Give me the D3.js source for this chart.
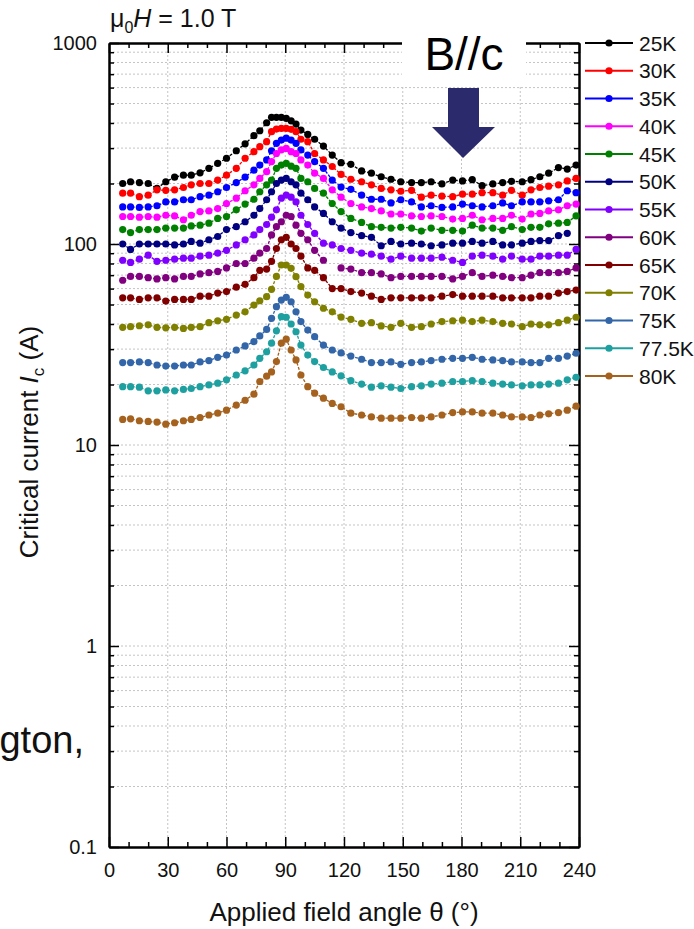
<!DOCTYPE html>
<html>
<head>
<meta charset="utf-8">
<script src="https://cdn.jsdelivr.net/npm/d3@7"></script>
<style>
  body { margin: 0; background: #fff; }
  svg { font-family: Arial, "Liberation Sans", sans-serif; }
</style>
</head>
<body>
<div class="canvas"></div>
<script>
// field angle (deg) of each measured point, shared by all curves
const angles = [7, 11, 15.5, 20, 24.5, 29, 33.5, 38, 42, 46.5,
  51, 55.5, 60, 65, 69.5, 74, 77, 80.5, 83, 85.5,
  88, 90.5, 93, 95.5, 98, 101.5, 105, 109.5, 114, 118.5,
  123.5, 129, 134, 139, 144, 149, 154.5, 159.5, 164.5, 170,
  175.5, 180.5, 185.5, 190.5, 196, 201, 205.5, 211, 215.5, 220,
  224.5, 229.5, 234, 238.5];

const temps = ['25K', '30K', '35K', '40K', '45K', '50K', '55K', '60K', '65K', '70K', '75K', '77.5K', '80K'];
const colors = ['#000000', '#ff0000', '#0000ff', '#ff00ff', '#008000', '#000080', '#8000ff',
  '#800080', '#800000', '#808000', '#3366a8', '#1fa0a0', '#a5621f'];

// critical current Ic (A)
const ic25 = [200,204,202,200,189,204,215,220,220,226, 238,252,267,291,315,346,366,401,427,427,
  427,422,410,395,369,351,332,307,277, 254,249,231,225,216,210,204,202,202,204,
  199,208,206,209,195,199,202,205,204,209, 216,225,240,236,247];
const ic30 = [179,179,172,175,186,185,186,191,197,200, 200,208,220,238,267,288,305,323,362,373,
  376,376,372,362,332,323,282,262,243, 222,210,204,197,189,186,183,185,171,175,
  173,172,177,177,180,180,175,185,175,186, 191,194,197,206,212];
const ic35 = [153,153,152,153,155,162,162,166,166,172, 175,182,191,202,215,233,247,262,291,317,
  329,336,329,317,294,277,257,238,208, 192,187,175,167,167,160,166,162,153,155,
  152,153,158,155,153,155,160,155,162,162, 162,164,166,184,180];
const ic40 = [137,137,136,137,136,139,138,132,139,145, 146,150,159,169,184,197,212,229,257,282,
  294,299,288,282,262,247,225,212,186, 171,159,153,150,146,141,141,138,137,138,
  137,133,134,139,132,134,134,139,133,141, 142,146,148,155,158];
const ic45 = [118,114,118,118,118,120,120,120,123,124, 127,134,137,148,158,167,182,197,208,238,
  247,252,244,238,212,204,189,179,159, 145,134,128,122,121,120,121,120,116,120,
  117,117,116,124,120,120,117,122,118,121, 121,126,127,128,138];
const ic50 = [100,94,100,100,100,100,99,100,103,101, 105,109,118,122,129,139,150,166,182,200,
  208,212,204,197,179,166,153,142,129, 120,114,110,108,98,103,100,101,100,98,
  99,101,101,103,101,103,99,99,101,103, 104,104,110,113,null];
const ic55 = [83,81,84,88,82,83,84,85,85,87, 88,90,93,99,105,111,118,125,136,148,
  169,175,171,162,139,125,113,101,99, 95,93,90,89,87,84,87,85,85,85,
  86,83,81,87,88,87,84,87,84,84, 87,87,88,88,94];
const ic60 = [66,69,69,68,67,68,67,69,69,71, 72,73,76,80,80,85,90,95,111,122,
  129,139,137,124,113,105,93,83,null, 76,75,72,72,71,68,69,69,69,69,
  69,67,69,72,69,70,69,68,68,70, 72,72,72,73,76];
const ic65 = [54,54,53,54,54,52,53,53,53,55, 55,57,58,61,63,68,74,75,82,95,
  105,108,100,95,87,76,74,68,60, 60,58,57,55,53,54,54,54,54,54,
  55,56,55,55,55,55,54,54,54,54, 55,55,57,58,59];
const ic70 = [38.5,38.8,39.2,39.6,38.5,38.3,38.5,38.0,38.5,38.8, 40.6,41.5,42.2,44.3,46.0,49.7,52.2,54.7,59.5,69,
  78.6,78.6,75.7,68.8,61.4,55.7,51.6,47.9,46.0, 43.3,42.2,40.3,40.6,39.1,38.5,40.3,38.5,38.8,40.0,
  41.1,41.5,41.8,41.1,41.8,41.1,40.3,40.0,38.8,40.0, 39.6,39.6,40.6,41.8,43.2];
const ic75 = [25.7,25.7,25.9,25.7,25.0,24.7,24.7,25.0,25.0,25.9, 26.3,27.3,28.0,29.7,31.1,32.7,34.9,37.6,42.7,48.8,
  52.6,54.3,51.6,46.0,41.1,37.3,34.6,31.4,29.7, 28.7,27.7,26.7,25.7,25.7,25.9,25.2,25.7,25.9,26.3,
  26.7,27.0,27.0,27.3,26.7,26.5,26.3,25.9,25.9,25.7, 25.7,27.0,27.0,27.7,28.6];
const ic775 = [19.5,19.5,19.4,18.6,18.6,18.8,18.6,18.9,19.1,19.5, 19.9,20.3,21.1,22.3,23.4,25.0,27.0,29.1,32.1,37.0,
  43.5,43.2,40.0,36.6,31.4,28.0,26.0,24.3,23.1, 22.1,20.9,20.1,19.4,19.7,19.4,19.1,19.5,19.7,20.1,
  20.3,20.7,20.7,20.9,20.7,20.3,20.1,19.9,19.7,19.9, 19.9,20.1,20.3,21.1,21.7];
const ic80 = [13.4,13.5,13.2,13.1,13.0,12.7,12.9,13.2,13.4,13.7, 14.1,14.4,14.9,15.8,16.7,17.9,20.7,22.0,23.1,26.0,
  32.1,33.6,29.7,26.5,22.3,19.5,18.1,17.1,16.1, 15.5,14.4,14.1,13.8,13.6,13.6,13.6,13.7,13.6,13.8,
  14.1,14.5,14.6,14.6,14.4,14.4,14.1,13.8,13.8,13.7, 14.1,14.3,14.5,14.9,15.6];

const series = [ic25, ic30, ic35, ic40, ic45, ic50, ic55, ic60, ic65, ic70, ic75, ic775, ic80];

const xTicks = [0, 30, 60, 90, 120, 150, 180, 210, 240];
const yTicks = [0.1, 1, 10, 100, 1000];

const dims = { width: 694, height: 929 };
const plot = { left: 109, right: 579, top: 43, bottom: 847 };

const svg = d3.select('.canvas')
  .append('svg')
  .attr('width', dims.width)
  .attr('height', dims.height);

const x = d3.scaleLinear().domain([0, 240]).range([plot.left, plot.right]);
const y = d3.scaleLog().domain([0.1, 1000]).range([plot.bottom, plot.top]);

// all log ticks 1..9 per decade
const logTicks = [];
yTicks.slice(0, -1).forEach(d => { for (let k = 1; k <= 9; k++) logTicks.push(+(d * k).toPrecision(3)); });
logTicks.push(1000);
const minorY = logTicks.filter(v => !yTicks.includes(v));
const minorX = d3.range(0, 241, 10).filter(v => v % 30 !== 0);

// dotted grid
const grid = svg.append('g').attr('stroke', '#c4c4c4').attr('stroke-width', 1).attr('stroke-dasharray', '2,2');
grid.selectAll('.gx').data(xTicks.slice(1, -1)).enter().append('line')
  .attr('x1', d => x(d)).attr('x2', d => x(d)).attr('y1', plot.top).attr('y2', plot.bottom);
grid.selectAll('.gy').data(logTicks.filter(v => v > 0.1 && v < 1000)).enter().append('line')
  .attr('y1', d => y(d)).attr('y2', d => y(d)).attr('x1', plot.left).attr('x2', plot.right);

// axes (ticks pointing inward)
const axisStyle = g => {
  g.select('.domain').attr('stroke-width', 2);
  g.selectAll('.tick line').attr('stroke-width', 1.5);
  g.selectAll('text').attr('font-size', 20).attr('fill', '#111');
};

svg.append('g').attr('transform', `translate(0,${plot.bottom})`)
  .call(d3.axisBottom(x).tickValues(xTicks).tickFormat(d3.format('d')).tickSize(-10).tickSizeOuter(0).tickPadding(16))
  .call(axisStyle);
svg.append('g').attr('transform', `translate(0,${plot.bottom})`)
  .call(d3.axisBottom(x).tickValues(minorX).tickFormat('').tickSize(-5).tickSizeOuter(0))
  .call(axisStyle);
svg.append('g').attr('transform', `translate(0,${plot.top})`)
  .call(d3.axisTop(x).tickValues(xTicks).tickFormat('').tickSize(-10).tickSizeOuter(0))
  .call(axisStyle);
svg.append('g').attr('transform', `translate(0,${plot.top})`)
  .call(d3.axisTop(x).tickValues(minorX).tickFormat('').tickSize(-5).tickSizeOuter(0))
  .call(axisStyle);

svg.append('g').attr('transform', `translate(${plot.left},0)`)
  .call(d3.axisLeft(y).tickValues(yTicks).tickFormat(d => d < 1 ? '0.1' : d3.format('d')(d)).tickSize(-10).tickSizeOuter(0).tickPadding(12))
  .call(axisStyle);
svg.append('g').attr('transform', `translate(${plot.left},0)`)
  .call(d3.axisLeft(y).tickValues(minorY).tickFormat('').tickSize(-5).tickSizeOuter(0))
  .call(axisStyle);
svg.append('g').attr('transform', `translate(${plot.right},0)`)
  .call(d3.axisRight(y).tickValues(yTicks).tickFormat('').tickSize(-10).tickSizeOuter(0))
  .call(axisStyle);
svg.append('g').attr('transform', `translate(${plot.right},0)`)
  .call(d3.axisRight(y).tickValues(minorY).tickFormat('').tickSize(-5).tickSizeOuter(0))
  .call(axisStyle);

// data curves
const line = d3.line()
  .defined(d => d.v != null)
  .x(d => x(d.a))
  .y(d => y(d.v));

series.forEach((vals, i) => {
  const pts = angles.map((a, j) => ({ a, v: vals[j] }));
  const g = svg.append('g');
  g.append('path')
    .attr('d', line(pts))
    .attr('fill', 'none')
    .attr('stroke', colors[i])
    .attr('stroke-width', 1.3)
    .attr('stroke-dasharray', '3,1.5');
  g.selectAll('circle')
    .data(pts.filter(d => d.v != null))
    .enter().append('circle')
    .attr('cx', d => x(d.a))
    .attr('cy', d => y(d.v))
    .attr('r', 3.6)
    .attr('fill', colors[i]);
});

// B//c label box with arrow
svg.append('rect').attr('x', 402).attr('y', 0).attr('width', 124).attr('height', 86).attr('fill', '#fff');
svg.append('text').attr('x', 464).attr('y', 70).attr('text-anchor', 'middle')
  .attr('font-size', 46).attr('fill', '#000').text('B//c');
svg.append('path')
  .attr('d', 'M448,88 L479,88 L479,127 L495,127 L463,158 L432,127 L448,127 Z')
  .attr('fill', '#2b2a6c');

// legend
const legend = svg.append('g');
temps.forEach((t, i) => {
  const ly = 43 + i * 27.75;
  legend.append('line').attr('x1', 585).attr('x2', 633).attr('y1', ly).attr('y2', ly)
    .attr('stroke', colors[i]).attr('stroke-width', 2);
  legend.append('circle').attr('cx', 609).attr('cy', ly).attr('r', 3.6).attr('fill', colors[i]);
  legend.append('text').attr('x', 639).attr('y', ly + 7.5).attr('font-size', 21).attr('fill', '#111').text(t);
});

// field label
const title = svg.append('text').attr('x', 110).attr('y', 27).attr('font-size', 25).attr('fill', '#111');
title.append('tspan').text('\u03bc');
title.append('tspan').attr('dy', 6).attr('font-size', 16).text('0');
title.append('tspan').attr('dy', -6).attr('font-style', 'italic').text('H');
title.append('tspan').text(' = 1.0 T');

// axis titles
svg.append('text').attr('x', 344).attr('y', 921).attr('text-anchor', 'middle')
  .attr('font-size', 26).attr('fill', '#111').text('Applied field angle \u03b8 (\u00b0)');

const yl = svg.append('text').attr('transform', 'translate(38,442) rotate(-90)')
  .attr('text-anchor', 'middle').attr('font-size', 26).attr('fill', '#111');
yl.append('tspan').text('Critical current ');
yl.append('tspan').attr('font-style', 'italic').text('I');
yl.append('tspan').attr('dy', 6).attr('font-size', 17).text('c');
yl.append('tspan').attr('dy', -6).text(' (A)');

// stray text from the slide behind the chart
svg.append('text').attr('x', 84).attr('y', 753).attr('text-anchor', 'end')
  .attr('font-size', 38).attr('fill', '#111').text('gton,');
</script>
</body>
</html>
